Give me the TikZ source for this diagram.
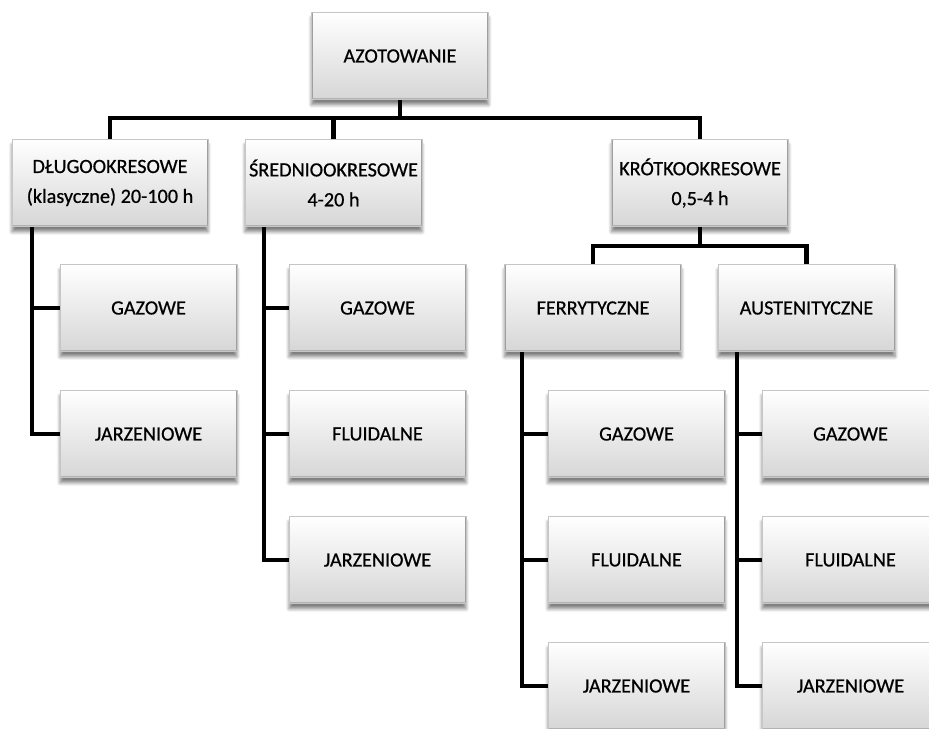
\documentclass[tikz,border=0pt]{standalone}
\usepackage{fontspec}
\setmainfont{Carlito}
\usetikzlibrary{calc, shadows.blur}

\tikzset{
  box/.style={rectangle, minimum width=3.54cm, minimum height=1.74cm, align=center, inner sep=2pt,
    top color=white, bottom color=gray!32, draw=gray!45, line width=0.4pt,
    blur shadow={shadow xshift=0pt, shadow yshift=-3pt, shadow blur steps=6, shadow opacity=50},
    font=\fontsize{11.5}{17}\selectfont\addfontfeature{FakeBold=0.6},
    path picture={
      \draw[gray!75, line width=1.2pt] (path picture bounding box.north west) -- (path picture bounding box.south west);
      \draw[gray!75, line width=1.2pt] (path picture bounding box.north east) -- (path picture bounding box.south east);
      \draw[gray!60, line width=1.2pt] (path picture bounding box.south west) -- (path picture bounding box.south east);}},
  conn/.style={line width=2.3pt, black}
}

\begin{document}
\begin{tikzpicture}[x=0.02cm, y=-0.02cm]
\useasboundingbox (0,0) rectangle (929,729);
% top
\node[box] (azot) at (400,56) {AZOTOWANIE};
% second level
\node[box, minimum width=3.92cm] (dlugo) at (110,183) {DŁUGOOKRESOWE\\(klasyczne) 20-100 h};
\node[box] (sred) at (333.5,183) {ŚREDNIOOKRESOWE\\4-20 h};
\node[box] (krotko) at (700,183) {KRÓTKOOKRESOWE\\0,5-4 h};
\node[box] (ferry) at (593,308) {FERRYTYCZNE};
\node[box] (austen) at (806.5,308) {AUSTENITYCZNE};
% methods
\node[box] (dlugo-gaz) at (148.5,308) {GAZOWE};
\node[box] (dlugo-jarz) at (148.5,434) {JARZENIOWE};
\node[box] (sred-gaz) at (377.5,308) {GAZOWE};
\node[box] (sred-fluid) at (377.5,434) {FLUIDALNE};
\node[box] (sred-jarz) at (377.5,560) {JARZENIOWE};
\node[box] (ferry-gaz) at (636.5,434) {GAZOWE};
\node[box] (ferry-fluid) at (636.5,560) {FLUIDALNE};
\node[box] (ferry-jarz) at (636.5,686) {JARZENIOWE};
\node[box] (austen-gaz) at (850.5,434) {GAZOWE};
\node[box] (austen-fluid) at (850.5,560) {FLUIDALNE};
\node[box] (austen-jarz) at (850.5,686) {JARZENIOWE};

% connectors
\coordinate (bar0) at (400,118);
\draw[conn] (azot.south) -- (bar0);
\draw[conn] (dlugo.north) |- (bar0) -| (krotko.north);
\draw[conn] (sred.north) -- (sred.north |- bar0);
\coordinate (bar1) at ($(krotko.south)+(0,19)$);
\draw[conn] (krotko.south) -- (bar1);
\draw[conn] (ferry.north) |- (bar1) -| (austen.north);

\coordinate (dlugo-t) at ($(dlugo.south west)+(20,0)$);
\draw[conn] (dlugo-t) |- (dlugo-jarz.west);
\draw[conn] (dlugo-gaz.west) -- (dlugo-gaz.west -| dlugo-t);

\coordinate (sred-t) at ($(sred.south west)+(19,0)$);
\draw[conn] (sred-t) |- (sred-jarz.west);
\draw[conn] (sred-gaz.west) -- (sred-gaz.west -| sred-t);
\draw[conn] (sred-fluid.west) -- (sred-fluid.west -| sred-t);

\coordinate (ferry-t) at ($(ferry.south west)+(18,0)$);
\draw[conn] (ferry-t) |- (ferry-jarz.west);
\draw[conn] (ferry-gaz.west) -- (ferry-gaz.west -| ferry-t);
\draw[conn] (ferry-fluid.west) -- (ferry-fluid.west -| ferry-t);

\coordinate (austen-t) at ($(austen.south west)+(19,0)$);
\draw[conn] (austen-t) |- (austen-jarz.west);
\draw[conn] (austen-gaz.west) -- (austen-gaz.west -| austen-t);
\draw[conn] (austen-fluid.west) -- (austen-fluid.west -| austen-t);
\end{tikzpicture}
\end{document}
